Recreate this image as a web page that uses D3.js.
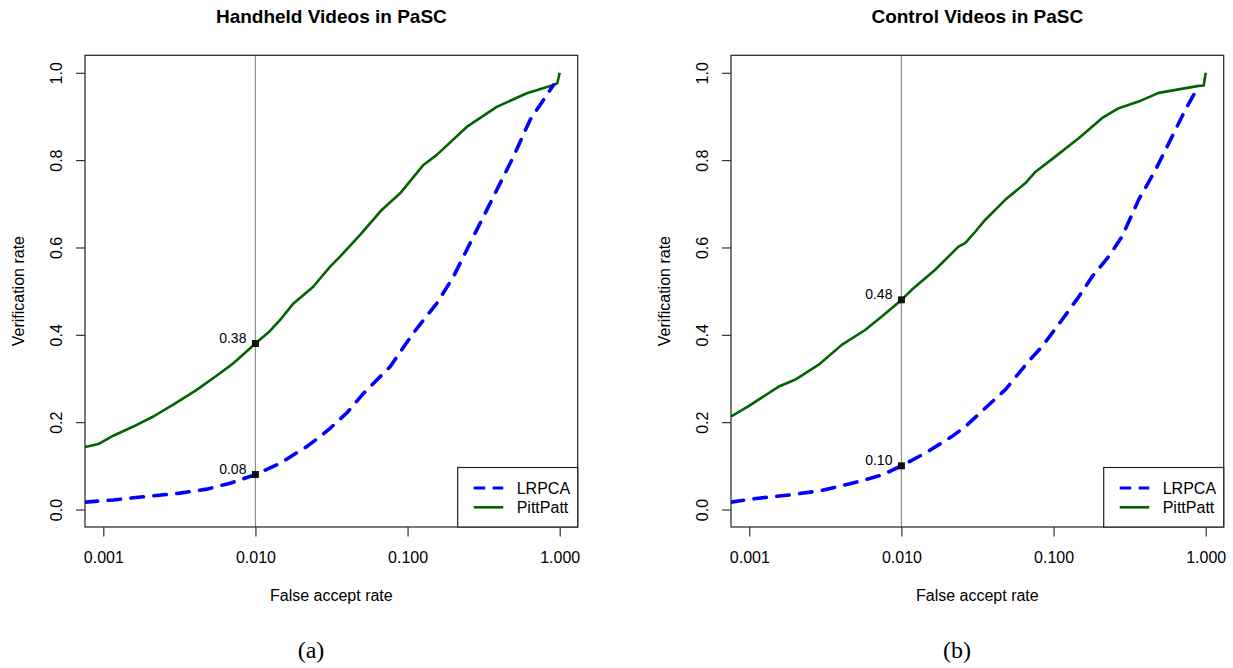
<!DOCTYPE html>
<html>
<head>
<meta charset="utf-8">
<script src="https://cdn.jsdelivr.net/npm/d3@7"></script>
<style>
  html, body { margin: 0; padding: 0; background: #fff; }
  svg { display: block; }
  text { font-family: "Liberation Sans", Arial, Helvetica, sans-serif; fill: #000; }
</style>
</head>
<body>
<svg id="chart" width="1233" height="668"></svg>
<script>
// ROC curves (verification rate vs. false accept rate) for two PaSC subsets.
const panelTitles = ["Handheld Videos in PaSC", "Control Videos in PaSC"];
const panelCaptions = ["(a)", "(b)"];
const seriesNames = ["LRPCA", "PittPatt"];
const xTickValues = [0.001, 0.01, 0.1, 1];
const yTickValues = [0, 0.2, 0.4, 0.6, 0.8, 1.0];
const markFar = 0.01;

// Handheld videos
const handheldLrpcaFar  = [0.00076, 0.001164, 0.001928, 0.003192, 0.004786, 0.006808, 0.01, 0.01452, 0.02173, 0.02661, 0.03097, 0.03981, 0.05129, 0.07674, 0.1091, 0.1556, 0.2, 0.271, 0.3664, 0.4966, 0.6383, 0.9099];
const handheldLrpcaRate = [0.017, 0.022, 0.030, 0.0375, 0.0467, 0.060, 0.08, 0.106, 0.144, 0.167, 0.186, 0.221, 0.266, 0.327, 0.404, 0.472, 0.533, 0.625, 0.716, 0.808, 0.892, 0.972];
const handheldPittFar   = [0.00076, 0.000927, 0.001164, 0.001574, 0.002133, 0.002884, 0.004111, 0.005848, 0.007161, 0.01, 0.01247, 0.01452, 0.01778, 0.02399, 0.02661, 0.03097, 0.03597, 0.04875, 0.06761, 0.08933, 0.1271, 0.1556, 0.2449, 0.3855, 0.6081, 0.9099, 0.964, 1.0];
const handheldPittRate  = [0.143, 0.150, 0.169, 0.190, 0.213, 0.240, 0.274, 0.312, 0.335, 0.38, 0.409, 0.434, 0.472, 0.510, 0.529, 0.556, 0.579, 0.629, 0.686, 0.724, 0.789, 0.812, 0.876, 0.922, 0.953, 0.972, 0.976, 1.0];
const handheldMarks = [0.08, 0.38];

// Control videos
const controlLrpcaFar  = [0.00076, 0.001148, 0.001901, 0.002992, 0.005212, 0.00743, 0.01, 0.01432, 0.02143, 0.02624, 0.03055, 0.03548, 0.04808, 0.06839, 0.08395, 0.1135, 0.1462, 0.1791, 0.2301, 0.2818, 0.3622, 0.4667, 0.6012, 0.7345, 0.8995];
const controlLrpcaRate = [0.017, 0.026, 0.034, 0.0435, 0.064, 0.079, 0.10, 0.129, 0.167, 0.190, 0.211, 0.232, 0.274, 0.339, 0.373, 0.434, 0.487, 0.533, 0.579, 0.625, 0.709, 0.777, 0.854, 0.915, 0.970];
const controlPittFar   = [0.00076, 0.000984, 0.001552, 0.001995, 0.002844, 0.004055, 0.005768, 0.00743, 0.01, 0.01169, 0.01667, 0.02371, 0.02624, 0.03055, 0.03548, 0.04808, 0.06516, 0.07586, 0.1026, 0.1462, 0.208, 0.2679, 0.3622, 0.4909, 0.6637, 0.8995, 0.9705, 1.0];
const controlPittRate  = [0.213, 0.236, 0.281, 0.297, 0.331, 0.377, 0.411, 0.442, 0.48, 0.503, 0.549, 0.602, 0.610, 0.636, 0.663, 0.709, 0.747, 0.773, 0.808, 0.850, 0.896, 0.919, 0.934, 0.954, 0.962, 0.970, 0.971, 1.0];
const controlMarks = [0.10, 0.48];

const panels = [
  { title: panelTitles[0], caption: panelCaptions[0], left: 85,
    lrpca: d3.zip(handheldLrpcaFar, handheldLrpcaRate),
    pitt: d3.zip(handheldPittFar, handheldPittRate), marks: handheldMarks },
  { title: panelTitles[1], caption: panelCaptions[1], left: 731,
    lrpca: d3.zip(controlLrpcaFar, controlLrpcaRate),
    pitt: d3.zip(controlPittFar, controlPittRate), marks: controlMarks }
];

const svg = d3.select("#chart");
const plotW = 492.7, plotTop = 55.3, plotBottom = 527;
const colors = { lrpca: "#0000ff", pitt: "#006400" };

panels.forEach((p, i) => {
  const x = d3.scaleLog()
    .domain([Math.pow(10, -3.1203), Math.pow(10, 0.1183)])
    .range([p.left, p.left + plotW]);
  const y = d3.scaleLinear().domain([-0.04, 1.04]).range([plotBottom, plotTop]);
  const cx = p.left + plotW / 2;
  const g = svg.append("g");

  const clipId = "clip" + i;
  g.append("clipPath").attr("id", clipId).append("rect")
    .attr("x", p.left).attr("y", plotTop).attr("width", plotW).attr("height", plotBottom - plotTop);

  // reference line at FAR = 1%
  g.append("line")
    .attr("x1", x(markFar)).attr("x2", x(markFar))
    .attr("y1", plotTop).attr("y2", plotBottom)
    .attr("stroke", "#8e8e8e").attr("stroke-width", 1.2);

  const line = d3.line().x(d => x(d[0])).y(d => y(d[1]));
  const curves = g.append("g").attr("clip-path", `url(#${clipId})`);
  curves.append("path").datum(p.pitt)
    .attr("d", line).attr("fill", "none")
    .attr("stroke", colors.pitt).attr("stroke-width", 2.6)
    .attr("stroke-linejoin", "round");
  curves.append("path").datum(p.lrpca)
    .attr("d", line).attr("fill", "none")
    .attr("stroke", colors.lrpca).attr("stroke-width", 3.6)
    .attr("stroke-dasharray", "12.5,10.5").attr("stroke-linecap", "round")
    .attr("stroke-linejoin", "round");

  // operating points at FAR = 1%
  p.marks.forEach(v => {
    g.append("rect")
      .attr("x", x(markFar) - 3).attr("y", y(v) - 3)
      .attr("width", 6).attr("height", 6)
      .attr("fill", "#111").attr("stroke", "#000").attr("stroke-width", 0.8);
    g.append("text")
      .attr("x", x(markFar) - 9).attr("y", y(v) - 1)
      .attr("text-anchor", "end").style("font-size", "14px")
      .text(d3.format(".2f")(v));
  });

  // axes
  const xAxis = d3.axisBottom(x).tickValues(xTickValues)
    .tickFormat(d3.format(".3f")).tickSize(9.5).tickPadding(15.1);
  const xg = g.append("g").attr("transform", `translate(0,${plotBottom})`).call(xAxis);
  xg.select(".domain").remove();
  xg.selectAll("line").attr("stroke", "#222").attr("stroke-width", 1.1);
  xg.selectAll("text").style("font-size", "16px").attr("fill", "#000");

  const yAxis = d3.axisLeft(y).tickValues(yTickValues)
    .tickFormat(d3.format(".1f")).tickSize(9);
  const yg = g.append("g").attr("transform", `translate(${p.left},0)`).call(yAxis);
  yg.select(".domain").remove();
  yg.selectAll("line").attr("stroke", "#222").attr("stroke-width", 1.1);
  yg.selectAll("text")
    .attr("x", 0).attr("dy", null).attr("y", -22.7)
    .attr("transform", "rotate(-90)")
    .attr("text-anchor", "middle").attr("fill", "#000")
    .style("font-size", "16px");
  g.selectAll("g").attr("font-family", null).attr("font-size", null);

  // plot frame
  g.append("rect")
    .attr("x", p.left).attr("y", plotTop).attr("width", plotW).attr("height", plotBottom - plotTop)
    .attr("fill", "none").attr("stroke", "#222").attr("stroke-width", 1.2);

  // legend
  const lgW = 120, lgH = 59.5;
  const lg = g.append("g").attr("transform", `translate(${p.left + plotW - lgW},${plotBottom - lgH})`);
  lg.append("rect").attr("width", lgW).attr("height", lgH)
    .attr("fill", "#fff").attr("stroke", "#222").attr("stroke-width", 1.2);
  [["lrpca", 20.5], ["pitt", 39.8]].forEach(([key, ly], k) => {
    const seg = lg.append("line").attr("x1", 16).attr("x2", 45.5).attr("y1", ly).attr("y2", ly)
      .attr("stroke", colors[key]);
    if (key === "lrpca") {
      seg.attr("stroke-width", 3).attr("stroke-dasharray", "11.5,7.5");
    } else {
      seg.attr("stroke-width", 2.6);
    }
    lg.append("text").attr("x", 59).attr("y", ly + 5.8)
      .style("font-size", "16px").text(seriesNames[k]);
  });

  // titles
  g.append("text").attr("x", cx).attr("y", 23).attr("text-anchor", "middle")
    .style("font-size", "19px").style("font-weight", "bold").text(p.title);
  g.append("text").attr("x", cx).attr("y", 600.5).attr("text-anchor", "middle")
    .style("font-size", "16px").text("False accept rate");
  g.append("text")
    .attr("transform", `translate(${p.left - 61},${(plotTop + plotBottom) / 2}) rotate(-90)`)
    .attr("text-anchor", "middle").style("font-size", "16px").text("Verification rate");
  g.append("text").attr("x", p.left + 226).attr("y", 658).attr("text-anchor", "middle")
    .style("font-family", "'Liberation Serif', 'Times New Roman', serif")
    .style("font-size", "24px").text(p.caption);
});
</script>
</body>
</html>
